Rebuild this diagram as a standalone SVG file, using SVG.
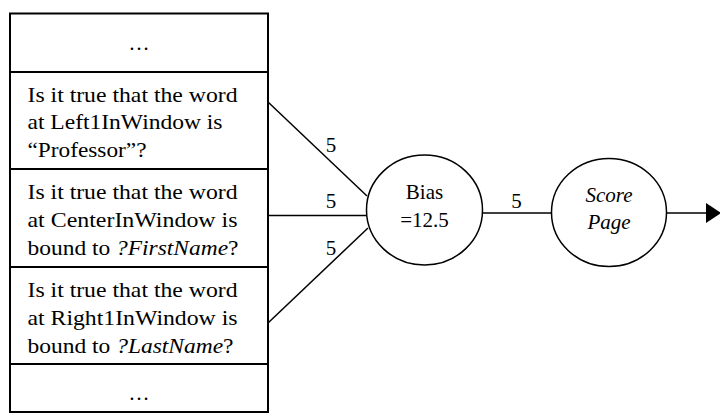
<svg xmlns="http://www.w3.org/2000/svg" width="720" height="419" viewBox="0 0 720 419">
<style>
.t{font-family:'Liberation Serif','Times New Roman',serif;font-size:21px;fill:#000}
.c{text-anchor:middle}
.i{font-style:italic}
.box{fill:#fff;stroke:#000;stroke-width:2}
.n{fill:#fff;stroke:#000;stroke-width:1.5}
.e{stroke:#000;stroke-width:1.5;fill:none}
</style>
<defs>
<marker id="ah" markerWidth="15" markerHeight="20" refX="1" refY="10" orient="auto" markerUnits="userSpaceOnUse" overflow="visible">
<path d="M0,0 L15,10 L0,20 Z" fill="#000"/>
</marker>
</defs>
<g id="features">
<rect class="box" x="10" y="13.5" width="258" height="398.5"/>
<line class="box" x1="10" y1="72" x2="268" y2="72"/>
<line class="box" x1="10" y1="169" x2="268" y2="169"/>
<line class="box" x1="10" y1="267" x2="268" y2="267"/>
<line class="box" x1="10" y1="364" x2="268" y2="364"/>
</g>
<g id="row-top" class="t">
<text class="c" x="139" y="50">…</text>
</g>
<g id="row-left1" class="t">
<text x="27.5" y="101.7" textLength="210" lengthAdjust="spacingAndGlyphs">Is it true that the word</text>
<text x="27.5" y="129" textLength="195" lengthAdjust="spacingAndGlyphs">at Left1InWindow is</text>
<text x="27.5" y="156.5" textLength="119" lengthAdjust="spacingAndGlyphs">“Professor”?</text>
</g>
<g id="row-center" class="t">
<text x="27.5" y="199" textLength="210" lengthAdjust="spacingAndGlyphs">Is it true that the word</text>
<text x="27.5" y="226.7" textLength="210" lengthAdjust="spacingAndGlyphs">at CenterInWindow is</text>
<text x="27.5" y="255" textLength="211" lengthAdjust="spacingAndGlyphs">bound to <tspan class="i">?FirstName</tspan>?</text>
</g>
<g id="row-right1" class="t">
<text x="27.5" y="296.7" textLength="210" lengthAdjust="spacingAndGlyphs">Is it true that the word</text>
<text x="27.5" y="325" textLength="210" lengthAdjust="spacingAndGlyphs">at Right1InWindow is</text>
<text x="27.5" y="352.7" textLength="206" lengthAdjust="spacingAndGlyphs">bound to <tspan class="i">?LastName</tspan>?</text>
</g>
<g id="row-bottom" class="t">
<text class="c" x="139" y="400">…</text>
</g>
<g id="connectors">
<line class="e" x1="268" y1="102" x2="367" y2="196"/>
<line class="e" x1="268" y1="215.5" x2="367" y2="215.5"/>
<line class="e" x1="268" y1="323" x2="368" y2="228"/>
<line class="e" x1="482" y1="213" x2="552" y2="213"/>
<line class="e" x1="667" y1="213" x2="707" y2="213" marker-end="url(#ah)"/>
<g class="t">
<text class="c" x="331" y="152">5</text>
<text class="c" x="331" y="208">5</text>
<text class="c" x="331" y="254.5">5</text>
<text class="c" x="516.5" y="208">5</text>
</g>
</g>
<g id="bias">
<ellipse class="n" cx="424.5" cy="210" rx="58" ry="55"/>
<g class="t">
<text class="c" x="424.5" y="199">Bias</text>
<text class="c" x="424.5" y="227.3">=12.5</text>
</g>
</g>
<g id="score">
<ellipse class="n" cx="609" cy="212.5" rx="57.5" ry="54"/>
<g class="t">
<text class="c i" x="609" y="201.7">Score</text>
<text class="c i" x="609" y="228.5">Page</text>
</g>
</g>
</svg>
